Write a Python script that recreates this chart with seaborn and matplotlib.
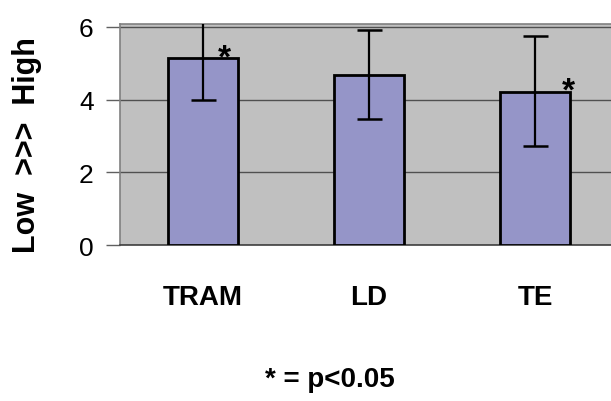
import matplotlib
matplotlib.use("Agg")
import matplotlib.pyplot as plt
import seaborn as sns
import pandas as pd

# values
categories = ["TRAM", "LD", "TE"]
means = [5.14, 4.68, 4.22]
err_low = [4.00, 3.47, 2.71]
err_high = [6.5, 5.92, 5.76]
significant = [True, False, True]
y_ticks = [0, 2, 4, 6]


def set_config():
    sns.set_theme(style="white")
    plt.rcParams["font.family"] = ["Liberation Sans", "DejaVu Sans"]
    plt.rcParams["text.color"] = "black"
    plt.rcParams["xtick.color"] = "black"
    plt.rcParams["ytick.color"] = "black"


def draw():
    df = pd.DataFrame({"group": categories, "score": means})

    fig = plt.figure(figsize=(6.11, 4.02), dpi=100)
    ax = fig.add_axes([0.1964, 0.388, 0.815, 0.55])
    ax.set_facecolor("#c0c0c0")

    sns.barplot(data=df, x="group", y="score", color="#9595c8", saturation=1,
                width=0.42, edgecolor="black", linewidth=2, ax=ax, zorder=3)

    # error bars (upper of TRAM runs off the top)
    lower = [m - lo for m, lo in zip(means, err_low)]
    upper = [hi - m for m, hi in zip(means, err_high)]
    ax.errorbar(range(len(categories)), means, yerr=[lower, upper], fmt="none",
                ecolor="black", elinewidth=1.6, capsize=9, capthick=1.8, zorder=4)

    # significance stars at the bar corners
    star_dx = [0.13, 0, 0.2]
    for i, (m, s) in enumerate(zip(means, significant)):
        if s:
            ax.text(i + star_dx[i], m - 0.22, "*", fontsize=24, fontweight="bold",
                    ha="center", va="baseline", zorder=5, clip_on=False)

    ax.set_ylim(0, 6.08)
    ax.set_xlim(-0.5, 2.5)
    ax.set_yticks(y_ticks)
    ax.set_yticklabels([str(t) for t in y_ticks], fontsize=19)
    ax.yaxis.grid(True, color="#505050", linewidth=1)
    ax.set_axisbelow(True)

    ax.set_xticks([0, 1, 2])
    ax.set_xticklabels(categories, fontsize=20, fontweight="bold")
    ax.set_xticks([-0.5, 0.5, 1.5, 2.5], minor=True)
    ax.tick_params(axis="x", which="major", length=0, pad=28)
    ax.tick_params(axis="x", which="minor", length=11, width=1, color="#404040", direction="out")
    ax.tick_params(axis="y", length=10, width=1, color="#606060", direction="out", left=True, pad=9)

    for side in ["top", "right", "left"]:
        ax.spines[side].set_color("#808080")
        ax.spines[side].set_linewidth(1.2)
    ax.spines["bottom"].set_color("#404040")
    ax.spines["bottom"].set_linewidth(1.2)

    ax.set_xlabel("")
    ax.set_ylabel("")
    fig.text(0.045, 0.64, "Low  >>>  High", rotation=90, fontsize=22,
             fontweight="bold", ha="center", va="center")
    fig.text(0.54, 0.055, "* = p<0.05", fontsize=20, fontweight="bold",
             ha="center", va="center")

    fig.savefig("out.png", dpi=100)


def main():
    set_config()
    draw()


if __name__ == "__main__":
    main()
